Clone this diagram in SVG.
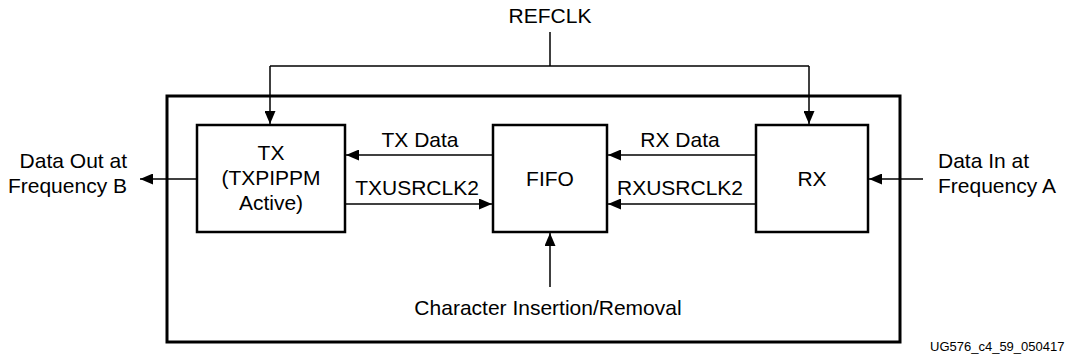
<svg xmlns="http://www.w3.org/2000/svg" width="1065" height="356" viewBox="0 0 1065 356">
<style>
text{font-family:"Liberation Sans",Arial,sans-serif;font-size:21px;fill:#000}
.c{text-anchor:middle}
.box{fill:#fff;stroke:#000;stroke-width:2.5}
.outer{fill:none;stroke:#000;stroke-width:3}
.ln{fill:none;stroke:#000;stroke-width:1.5}
.foot{font-size:13px}
</style>
<defs>
<marker id="ah" markerUnits="userSpaceOnUse" markerWidth="13" markerHeight="11" refX="13" refY="5.5" orient="auto">
<path d="M0,0 L13,5.5 L0,11 z" fill="#000"/>
</marker>
</defs>
<rect id="outer" class="outer" x="167" y="96" width="733" height="246"/>
<g id="connectors">
<path class="ln" d="M550,32 V66"/>
<path class="ln" d="M270,66 H809"/>
<path class="ln" d="M270,66 V124" marker-end="url(#ah)"/>
<path class="ln" d="M809,66 V124" marker-end="url(#ah)"/>
<path class="ln" d="M197,179 H140" marker-end="url(#ah)"/>
<path class="ln" d="M923,179 H869" marker-end="url(#ah)"/>
<path class="ln" d="M493,155 H346" marker-end="url(#ah)"/>
<path class="ln" d="M345,204 H492" marker-end="url(#ah)"/>
<path class="ln" d="M756,155 H608" marker-end="url(#ah)"/>
<path class="ln" d="M756,204 H608" marker-end="url(#ah)"/>
<path class="ln" d="M550,287 V233" marker-end="url(#ah)"/>
</g>
<g id="tx">
<rect class="box" x="197" y="125" width="148" height="107"/>
<text class="c" x="271" y="160">TX</text>
<text class="c" x="271" y="185">(TXPIPPM</text>
<text class="c" x="271" y="210">Active)</text>
</g>
<g id="fifo">
<rect class="box" x="493" y="125" width="114" height="107"/>
<text class="c" x="550" y="186">FIFO</text>
</g>
<g id="rx">
<rect class="box" x="756" y="125" width="112" height="107"/>
<text class="c" x="812" y="186">RX</text>
</g>
<g id="labels">
<text class="c" x="550" y="23">REFCLK</text>
<text x="127" y="168" text-anchor="end">Data Out at</text>
<text x="127" y="193" text-anchor="end">Frequency B</text>
<text x="938" y="168">Data In at</text>
<text x="938" y="193">Frequency A</text>
<text class="c" x="420" y="147">TX Data</text>
<text class="c" x="417" y="195">TXUSRCLK2</text>
<text class="c" x="680" y="147">RX Data</text>
<text class="c" x="680" y="195">RXUSRCLK2</text>
<text class="c" x="548" y="315">Character Insertion/Removal</text>
<text class="foot" x="930" y="351">UG576_c4_59_050417</text>
</g>
</svg>
